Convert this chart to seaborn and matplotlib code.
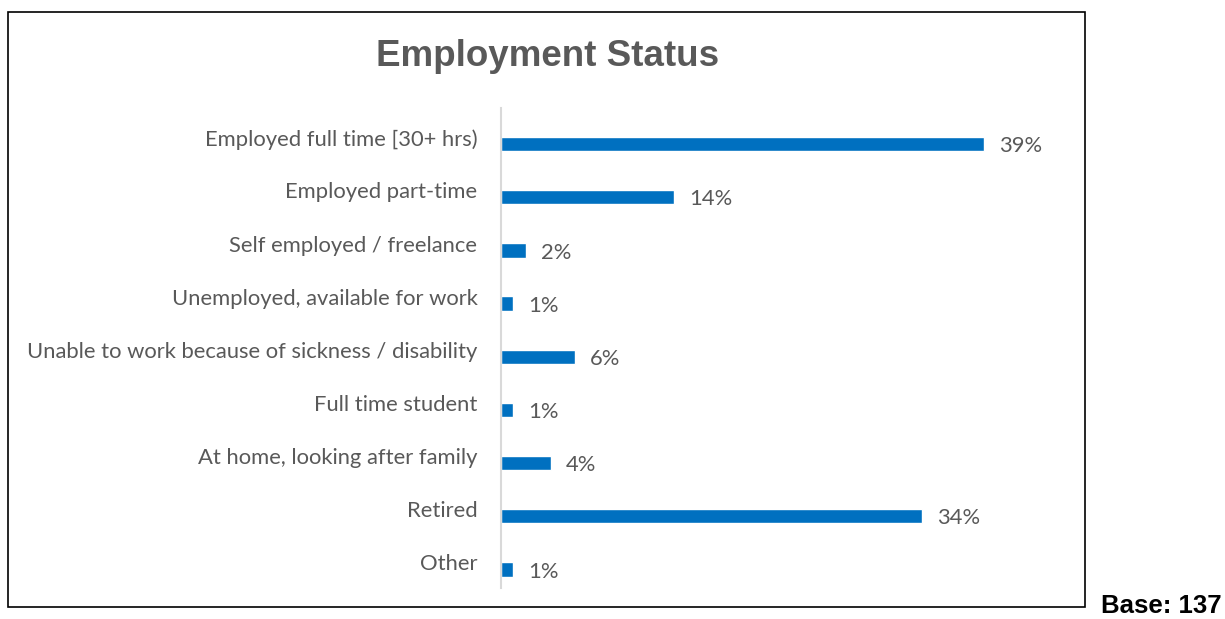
import pandas as pd
import seaborn as sns
import matplotlib.pyplot as plt
from matplotlib.patches import Rectangle

categories = [
    "Employed full time [30+ hrs)",
    "Employed part-time",
    "Self employed / freelance",
    "Unemployed, available for work",
    "Unable to work because of sickness / disability",
    "Full time student",
    "At home, looking after family",
    "Retired",
    "Other",
]
values = [39, 14, 2, 1, 6, 1, 4, 34, 1]
value_labels = ["39%", "14%", "2%", "1%", "6%", "1%", "4%", "34%", "1%"]
title = "Employment Status"
base_note = "Base: 137"

BLUE = "#0070C0"
GREY = "#595959"

df = pd.DataFrame({"status": categories, "pct": values})

sns.set_theme(style="white")
plt.rcParams["font.family"] = ["Lato", "DejaVu Sans"]

fig = plt.figure(figsize=(12.25, 6.19), dpi=100)
ax = fig.add_axes([501 / 1225, 1 - 588 / 619, (1080 - 501) / 1225, (588 - 108) / 619])

sns.barplot(data=df, y="status", x="pct", orient="h", color=BLUE,
            saturation=1, width=0.27, ax=ax)

ax.set_xlim(0, (1080 - 501) / 12.38)
ax.set_ylim(8.35, -0.68)
ax.set_xlabel("")
ax.set_ylabel("")
ax.set_xticks([])
ax.set_yticks([i - 0.13 for i in range(len(categories))])
ax.set_yticklabels(categories, fontsize=15.8, color=GREY)
ax.tick_params(axis="y", length=0, pad=17)

for s in ["top", "right", "bottom"]:
    ax.spines[s].set_visible(False)
ax.spines["left"].set_color("#D9D9D9")
ax.spines["left"].set_linewidth(1.5)

for i, (v, lab) in enumerate(zip(values, value_labels)):
    ax.text(v + 1.2, i + 0.04, lab, va="center", ha="left", fontsize=15.8, color=GREY)

fig.text(548 / 1225, 1 - 56 / 619, title, ha="center", va="center",
         fontsize=26.5, fontweight="bold", color=GREY, family=["Liberation Sans", "DejaVu Sans"])

fig.patches.append(Rectangle((8 / 1225, 1 - 607 / 619), 1077 / 1225, 595 / 619,
                             transform=fig.transFigure, fill=False,
                             edgecolor="black", linewidth=1.2))

fig.text(1222 / 1225, 1 - 618 / 619, base_note, ha="right", va="bottom",
         fontsize=18.5, fontweight="bold", color="black",
         family=["Liberation Sans", "DejaVu Sans"])

fig.savefig("out.png", dpi=100)
